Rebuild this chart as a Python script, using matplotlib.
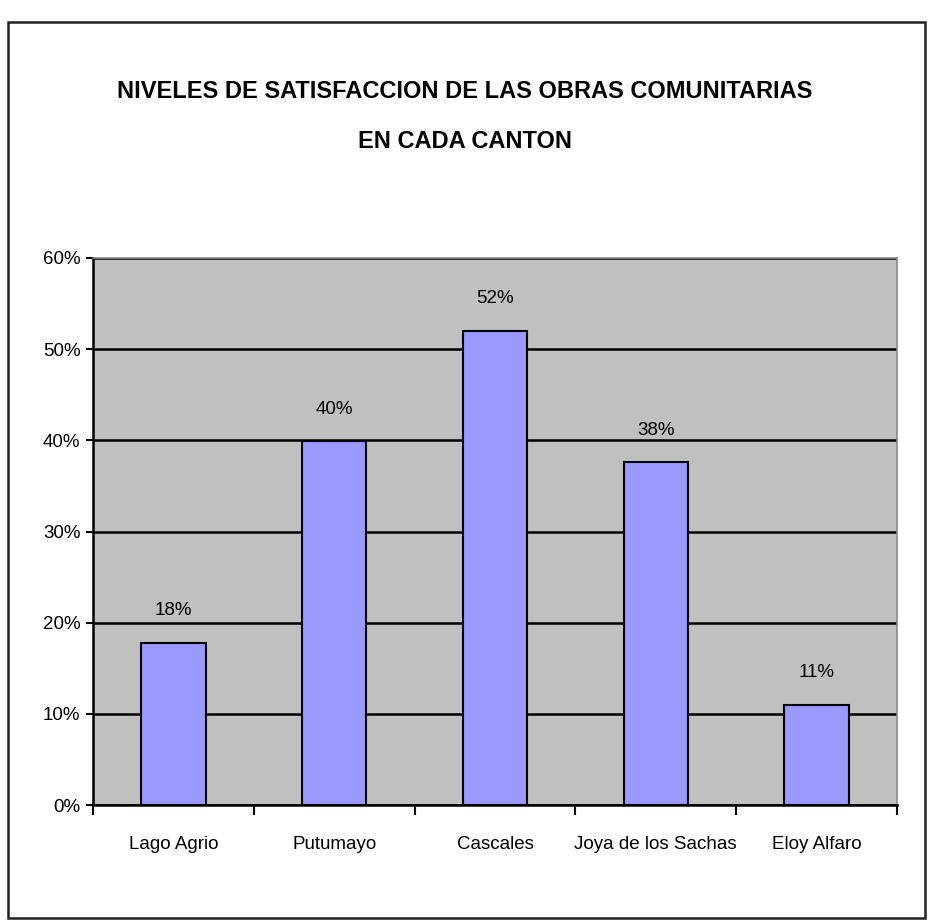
import numpy as np
import matplotlib.pyplot as plt
from matplotlib.patches import Rectangle

cantones = ["Lago Agrio", "Putumayo", "Cascales", "Joya de los Sachas", "Eloy Alfaro"]
satisfaccion = [17.8, 39.9, 52.0, 37.6, 11.0]
etiquetas = ["18%", "40%", "52%", "38%", "11%"]
yticks = [0, 10, 20, 30, 40, 50, 60]

plt.rcParams['font.family'] = ['Liberation Sans', 'DejaVu Sans']

fig = plt.figure(figsize=(9.3, 9.22), dpi=100)
fig.patch.set_facecolor('white')

# outer frame
fig.patches.append(Rectangle((8/930, 1 - 918/922), 917/930, 896/922, transform=fig.transFigure,
                             fill=False, edgecolor='#222222', lw=1.8))

ax = fig.add_axes([93/930, 1 - 805/922, 804/930, 547/922])
ax.set_facecolor('#C0C0C0')

x = np.arange(len(cantones))
ax.set_axisbelow(True)
ax.yaxis.grid(True, color='black', lw=1.8)
ax.bar(x, satisfaccion, width=0.4, color='#9999FF', edgecolor='black', lw=1.5, zorder=3)

for xi, v, lab in zip(x, satisfaccion, etiquetas):
    ax.text(xi, v + 2.6, lab, ha='center', va='bottom', fontsize=13.5)

ax.set_xlim(-0.5, len(cantones) - 0.5)
ax.set_ylim(0, 60)
ax.set_yticks(yticks)
ax.set_yticklabels(["{}%".format(t) for t in yticks], fontsize=13.5)
ax.set_xticks(x)
ax.set_xticklabels(cantones, fontsize=13.5)
ax.tick_params(axis='x', length=0, pad=22)
ax.set_xticks(np.arange(len(cantones) + 1) - 0.5, minor=True)
ax.tick_params(axis='x', which='minor', length=7, width=1.5, direction='out')
ax.tick_params(axis='y', length=5, width=1.5, direction='out', pad=4)

for s in ['left', 'bottom']:
    ax.spines[s].set_color('black')
    ax.spines[s].set_linewidth(1.8)
for s in ['top', 'right']:
    ax.spines[s].set_color('#8a8a8a')
    ax.spines[s].set_linewidth(1.2)

fig.text(0.5, 1 - 92/922, "NIVELES DE SATISFACCION DE LAS OBRAS COMUNITARIAS", ha='center', va='center',
         fontsize=17, fontweight='bold')
fig.text(0.5, 1 - 142/922, "EN CADA CANTON", ha='center', va='center', fontsize=17, fontweight='bold')

plt.savefig("out.png", dpi=100)
